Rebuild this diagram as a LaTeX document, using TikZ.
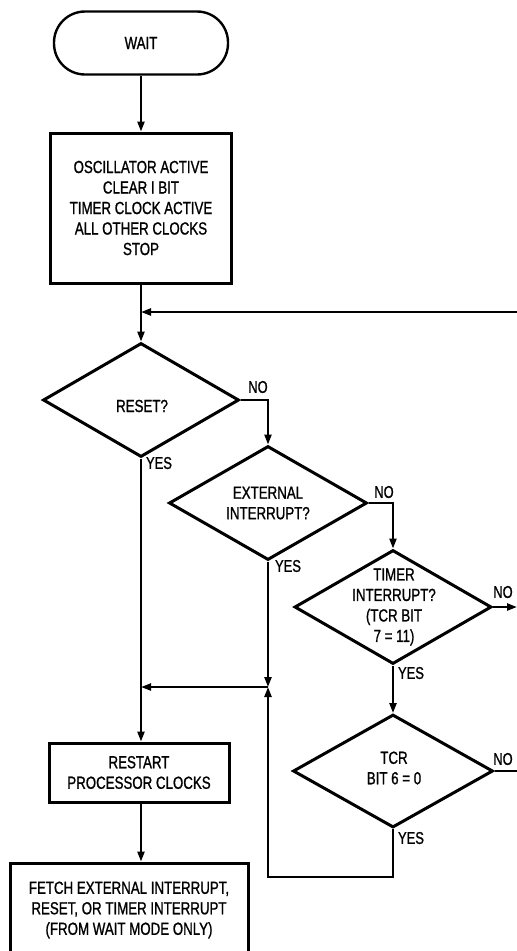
\documentclass[tikz,border=0pt]{standalone}
\usepackage{fontspec}
\setmainfont{Liberation Sans}[FakeStretch=0.76, FakeBold=1]
\usetikzlibrary{shapes.geometric,arrows.meta}
\begin{document}
\begin{tikzpicture}[x=1pt,y=-1pt,
  every node/.style={font=\fontsize{17.5}{20.5}\selectfont, inner sep=0pt, align=center},
  shapebox/.style={draw, line width=3pt, rectangle},
  term/.style={draw, line width=2.4pt, rectangle, rounded corners=31pt},
  dec/.style={draw, line width=3pt, diamond},
  conn/.style={line width=2.2pt},
  arr/.style={conn, -{Triangle[length=10pt,width=7pt]}},
  lbl/.style={font=\fontsize{17}{18}\selectfont}
]
\useasboundingbox (0,0) rectangle (517,951);
\fill[white] (0,0) rectangle (517,951);

% start
\node[term, minimum width=174pt, minimum height=63pt] (wait) at (141,43) {WAIT};
\node[shapebox, minimum width=181pt, minimum height=150pt] (init) at (141,208)
  {OSCILLATOR ACTIVE\\CLEAR I BIT\\TIMER CLOCK ACTIVE\\ALL OTHER CLOCKS\\STOP};

% decisions
\node[dec, minimum width=196pt, minimum height=114pt] (d1) at (141,400) {};
\node (t1) at (142,406) {RESET?};
\node[dec, minimum width=198pt, minimum height=114pt] (d2) at (268,503) {};
\node (t2) at (268,503) {EXTERNAL\\INTERRUPT?};
\node[dec, minimum width=197pt, minimum height=114pt] (d3) at (393,607) {};
\node (t3) at (394,607) {TIMER\\INTERRUPT?\\(TCR BIT\\7 = 11)};
\node[dec, minimum width=200pt, minimum height=113pt] (d4) at (393,771) {};
\node (t4) at (394,768) {TCR\\BIT 6 = 0};

% process boxes
\node[shapebox, minimum width=180pt, minimum height=59pt] (restart) at (139,772.5)
  {RESTART\\PROCESSOR CLOCKS};
\node[shapebox, minimum width=238pt, minimum height=94pt] (fetch) at (129,910)
  {FETCH EXTERNAL INTERRUPT,\\RESET, OR TIMER INTERRUPT\\(FROM WAIT MODE ONLY)};

% coordinates
\coordinate (fbR) at (517,312);
\coordinate (fbJ) at (141,312);
\coordinate (j2) at (268,687);
\coordinate (jL) at (141,687);
\coordinate (out3) at (517,607);
\coordinate (out4) at (517,771);
\coordinate (loopA) at (393,877);
\coordinate (loopB) at (268,877);

% connectors
\draw[arr] (wait.south) -- (init.north);
\draw[arr] (init.south) -- (d1.north);
\draw[arr] (fbR) -- (fbJ);
\draw[arr] (d1.east) -| (d2.north);
\draw[arr] (d1.south) -- (d1.south |- restart.north);
\draw[arr] (d2.east) -| (d3.north);
\draw[arr] (d2.south) -- (j2);
\draw[arr] (j2) -- (jL);
\draw[arr] (d3.east) -- (out3);
\draw[arr] (d3.south) -- (d4.north);
\draw[conn] (d4.east) -- (out4);
\draw[arr] (d4.south) -- (loopA) -- (loopB) -- (j2);
\draw[arr] (d1.south |- restart.south) -- (d1.south |- fetch.north);

% labels
\node[lbl] (n1) at (258,387) {NO};
\node[lbl] (y1) at (159,463) {YES};
\node[lbl] (n2) at (384,492) {NO};
\node[lbl] (y2) at (288,566) {YES};
\node[lbl] (n3) at (503,592) {NO};
\node[lbl] (y3) at (411,673) {YES};
\node[lbl] (n4) at (503,759) {NO};
\node[lbl] (y4) at (411,838) {YES};
\end{tikzpicture}
\end{document}
